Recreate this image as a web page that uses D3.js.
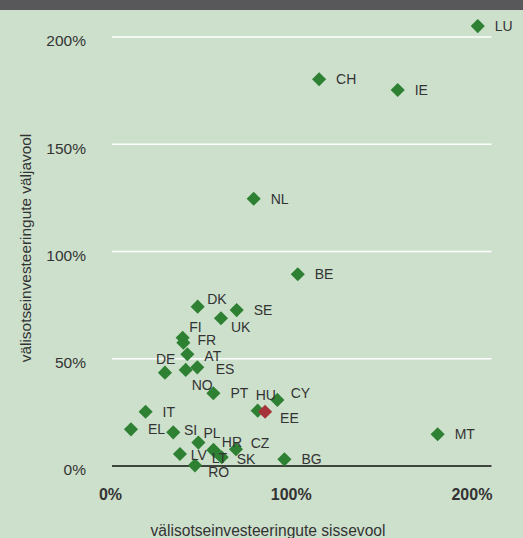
<!DOCTYPE html>
<html><head><meta charset="utf-8">
<script src="https://cdn.jsdelivr.net/npm/d3@7"></script>
<style>
html,body{margin:0;padding:0;background:#cde0cc;}
svg{display:block;}
text{font-family:"Liberation Sans",Arial,sans-serif;fill:#333;}
</style></head><body>
<script>
// Data
const countries = ["LU","CH","IE","NL","BE","DK","SE","UK","FI","FR","AT","DE","ES","NO","PT","HU","EE","CY","IT","EL","SI","PL","HR","SK","CZ","LV","LT","RO","BG","MT"];
const inflow  = [202.4,114.6,158.1,78.4,102.8,47.4,69.0,60.3,39.1,39.5,41.7,29.3,47.2,40.8,56.1,80.6,84.7,91.5,18.6,10.5,33.9,47.8,56.1,56.7,68.6,37.6,60.7,45.9,95.4,180.2];
const outflow = [205.1,180.3,175.3,124.6,89.4,74.3,72.7,68.9,59.8,57.5,52.1,43.5,46.0,44.8,33.9,25.8,25.3,30.8,25.3,17.1,15.7,10.9,7.5,7.0,7.8,5.6,4.1,0.3,3.1,14.8];
const highlighted = ["EE"];
const yTicks = [0,50,100,150,200];
const xTicks = [0,100,200];
const xTitle = "välisotseinvesteeringute sissevool";
const yTitle = "välisotseinvesteeringute väljavool";

// label placement tweaks (offset from point, px) for crowded labels
const labelOffset = {
  DK:[9.6,-7.4], UK:[10,8.4], FI:[6.6,-11], FR:[14,-2.5], AT:[17,1.5], DE:[-9,-13.4], NO:[6,15],
  HU:[-2,-15.7], EE:[15,6.6], CY:[13.4,-6.7], SI:[10.7,-2.3], PL:[5,-9.4], HR:[8.4,-8.3],
  SK:[22.2,8.3], CZ:[14.7,-6], LV:[10.7,1], LT:[-10,0.5], RO:[13.3,6.8], ES:[18.4,1.5]
};
const defaultOffset = [17,0];

const W = 523, H = 538;
const svg = d3.select("body").append("svg").attr("width",W).attr("height",H);
svg.append("rect").attr("width",W).attr("height",H).attr("fill","#cde0cc");
svg.append("rect").attr("width",W).attr("height",10).attr("fill","#58585a");

const x = d3.scaleLinear().domain([0,210]).range([112,491.5]);
const y = d3.scaleLinear().domain([0,210]).range([466,15.55]);

// gridlines
svg.append("g").selectAll("line").data(yTicks.filter(d=>d>0)).join("line")
  .attr("x1",x(0)).attr("x2",x(210)).attr("y1",d=>y(d)).attr("y2",d=>y(d))
  .attr("stroke","#ffffff").attr("stroke-width",1.5);
// zero line
svg.append("line").attr("x1",x(0)).attr("x2",x(210)).attr("y1",y(0)).attr("y2",y(0))
  .attr("stroke","#111").attr("stroke-width",1.5);

// y tick labels
const yAxis = d3.axisLeft(y).tickValues(yTicks).tickFormat(d=>d+"%").tickSize(0).tickPadding(0);
const gy = svg.append("g").attr("transform","translate(86,4)").call(yAxis);
gy.select(".domain").remove();
gy.selectAll("text").attr("font-size",15.5).style("font-family","Liberation Sans, Arial, sans-serif").attr("fill","#333");

// x tick labels
const xAxis = d3.axisBottom(x).tickValues(xTicks).tickFormat(d=>d+"%").tickSize(0).tickPadding(0);
const gx = svg.append("g").attr("transform","translate(-2,489)").call(xAxis);
gx.select(".domain").remove();
gx.selectAll("text").attr("font-size",16).attr("font-weight","bold").style("font-family","Liberation Sans, Arial, sans-serif").attr("fill","#111");

// titles
svg.append("text").attr("x",268).attr("y",535.5).attr("text-anchor","middle").attr("font-size",15.6).text(xTitle);
svg.append("text").attr("transform","translate(31,248) rotate(-90)").attr("text-anchor","middle").attr("font-size",15.4).text(yTitle);

const data = countries.map((c,i)=>({c, xv:inflow[i], yv:outflow[i]}));

// points
svg.append("g").selectAll("path").data(data).join("path")
  .attr("d", d3.symbol(d3.symbolSquare, 100))
  .attr("transform", d=>`translate(${x(d.xv)},${y(d.yv)}) rotate(45)`)
  .attr("fill", d=>highlighted.includes(d.c) ? "#a6333a" : "#2e8032");

// labels
svg.append("g").selectAll("text").data(data).join("text")
  .attr("x", d=>x(d.xv) + (labelOffset[d.c]||defaultOffset)[0])
  .attr("y", d=>y(d.yv) + (labelOffset[d.c]||defaultOffset)[1])
  .attr("dy","0.36em").attr("font-size",14).attr("fill","#2a2a2a")
  .text(d=>d.c);
</script>
</body></html>
